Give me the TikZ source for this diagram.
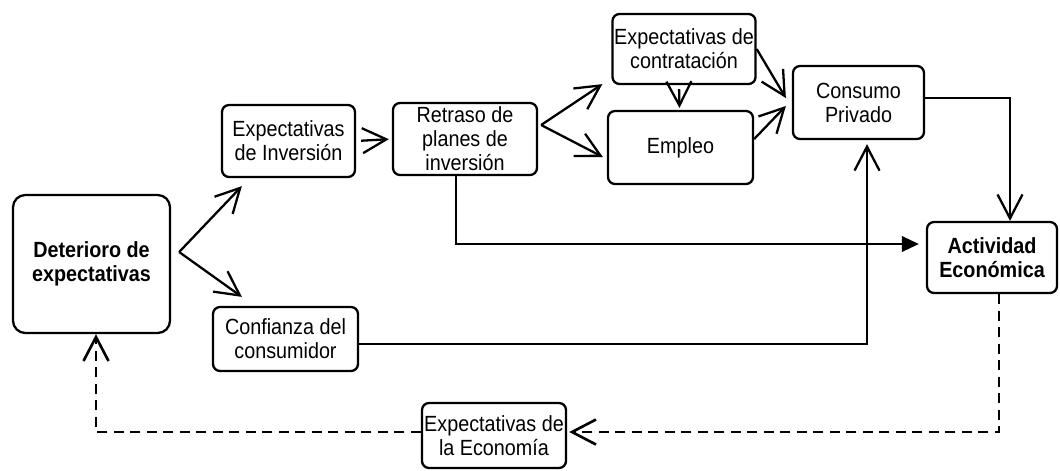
\documentclass[tikz,border=0pt]{standalone}
\usepackage{fontspec}
\setmainfont[FakeStretch=0.9]{Liberation Sans}
\usetikzlibrary{arrows.meta,calc}
\tikzset{
  >={Straight Barb[length=4.8mm,width=5mm]},
  box/.style={draw,rounded corners=4pt,line width=1.3pt,align=center,inner sep=1pt,
    font=\fontsize{12.5}{13.6}\selectfont},
  flow/.style={->,line width=1.3pt},
  solid flow/.style={-{Triangle[length=3.4mm,width=3.1mm]},line width=1.3pt},
  loop back/.style={->,line width=1.5pt,dash pattern=on 2mm off 1.3mm},
}
\begin{document}
\begin{tikzpicture}
  \useasboundingbox (0,0) rectangle (21.2,-9.4);
  % boxes
  \node[box,rounded corners=7pt,font=\fontsize{12.5}{13.6}\selectfont\bfseries,minimum width=3.14cm,minimum height=2.76cm] (det) at (1.83,-5.28) {Deterioro de\\expectativas};
  \node[box,minimum width=2.66cm,minimum height=1.44cm] (expinv) at (5.77,-2.82) {Expectativas\\de Inversión};
  \node[box,minimum width=2.9cm,minimum height=1.28cm] (conf) at (5.71,-6.78) {Confianza del\\consumidor};
  \node[box,inner sep=0pt,minimum width=2.88cm,minimum height=1.44cm] (retraso) at (9.3,-2.78) {Retraso de\\planes de\\inversión};
  \node[box,minimum width=2.84cm,minimum height=1.4cm] (contrat) at (13.68,-0.98) {Expectativas de\\contratación};
  \node[box,minimum width=2.9cm,minimum height=1.46cm] (empleo) at (13.61,-2.95) {Empleo};
  \node[box,minimum width=2.62cm,minimum height=1.46cm] (consumo) at (17.17,-2.05) {Consumo\\Privado};
  \node[box,font=\fontsize{12.5}{13.6}\selectfont\bfseries,minimum width=2.6cm,minimum height=1.42cm] (actividad) at (19.84,-5.15) {Actividad\\Económica};
  \node[box,inner sep=0pt,minimum width=2.88cm,minimum height=1.3cm] (expeco) at (9.88,-8.71) {Expectativas de\\la Economía};
  % forks
  \coordinate (fork1) at ($(det.east)+(0.16,0.24)$);
  \coordinate (fork2) at ($(retraso.east)+(0.06,0.28)$);
  % connectors
  \draw[flow] (fork1) -- ($(expinv.south west)+(0.42,-0.16)$);
  \draw[flow] (fork1) -- ($(conf.north west)+(0.6,0.18)$);
  \draw[flow,shorten <=0.1cm,shorten >=0.06cm] (expinv.east) -- (retraso.west);
  \draw[flow] (fork2) -- ($(contrat.south west)+(-0.18,0.02)$);
  \draw[flow] (fork2) -- ($(empleo.west)+(-0.08,-0.19)$);
  \draw[flow,shorten <=0.08cm,shorten >=0.04cm] ($(contrat.south)+(-0.1,0)$) -- ($(empleo.north)+(-0.02,0)$);
  \draw[flow] (contrat.east) -- ($(consumo.west)+(-0.12,0.09)$);
  \draw[flow] ($(empleo.east)+(0,0.17)$) -- ($(consumo.west)+(-0.12,-0.07)$);
  \draw[flow] ($(consumo.east)+(0,0.09)$) -| ($(actividad.north)+(0.36,0)$);
  \draw[solid flow,shorten >=0.14cm] ($(retraso.south)+(-0.18,0)$) |- ($(actividad.west)+(0,0.27)$);
  \draw[flow,shorten >=0.08cm] ($(conf.east)+(0,-0.1)$) -| ($(consumo.south)+(0.17,0)$);
  \draw[loop back,shorten >=0.04cm] ($(actividad.south)+(0.14,0)$) |- ($(expeco.east)+(0,0.07)$);
  \draw[loop back] ($(expeco.west)+(0,0.07)$) -| ($(det.south)+(0.09,0)$);
\end{tikzpicture}
\end{document}
